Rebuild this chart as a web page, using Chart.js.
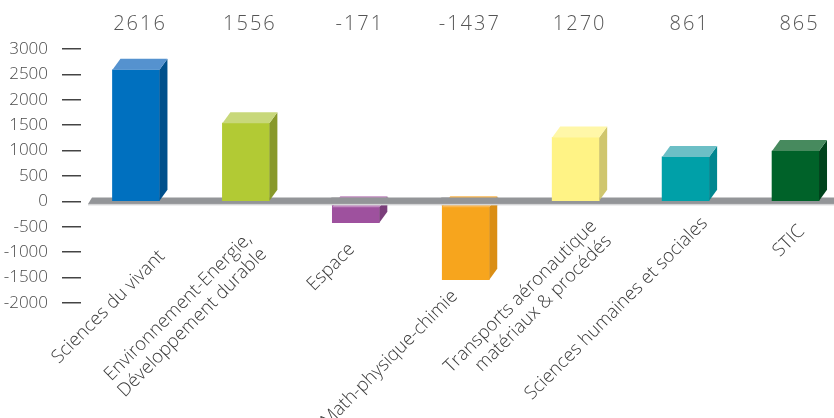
<!DOCTYPE html>
<html>
<head>
<meta charset="utf-8">
<script src="https://cdn.jsdelivr.net/npm/chart.js@4"></script>
<style>
  html, body { margin: 0; padding: 0; background: #fff; }
  #wrap { width: 834px; height: 418px; }
</style>
</head>
<body>
<div id="wrap"><canvas id="chart"></canvas></div>
<script>
// Categories (multi-line labels as arrays)
const categories = [
    'Sciences du vivant',
    ['Environnement-Energie,', 'Développement durable'],
    'Espace',
    'Math-physique-chimie',
    ['Transports aéronautique', 'matériaux & procédés'],
    'Sciences humaines et sociales',
    'STIC'
];

// Bar heights as drawn in the picture
const barValues = [2590, 1540, -420, -1540, 1260, 875, 990];

// Numbers printed above the chart
const shownValues = ['2616', '1556', '-171', '-1437', '1270', '861', '865'];

// y axis ticks
const yMin = -2000;
const yMax = 3000;
const yStep = 500;

// colours: front, top, side
const frontColors = ['#0070bf', '#b2ca34', '#9e519e', '#f7a51d', '#fff385', '#00a0a8', '#006229'];
const topColors = ['#5592cf', '#c8d87a', '#c08abf', '#f9b651', '#fff7a8', '#6cbfc6', '#478a5e'];
const sideColors = ['#00508c', '#88992a', '#7a3e7a', '#da8e15', '#cfc66d', '#008790', '#00431c'];

// where each rotated label ends, in px from the bar centre on the zero line
const labelOffsets = [[26, 52], [3, 35], [-4, 45], [-11, 92], [18, 22], [19, 19], [6, 27]];

const DEPTH_X = 8;
const DEPTH_Y = 11;
const FONT = '"Open Sans", "DejaVu Sans", sans-serif';

function drawFloor(chart) {
    const ctx = chart.ctx;
    const z = chart.scales.y.getPixelForValue(0);
    const left = chart.chartArea.left + 7;
    const right = chart.width;
    ctx.fillStyle = '#939598';
    ctx.beginPath();
    ctx.moveTo(left + 4, z - 4);
    ctx.lineTo(right, z - 4);
    ctx.lineTo(right, z + 2.5);
    ctx.lineTo(left, z + 2.5);
    ctx.closePath();
    ctx.fill();
    ctx.fillStyle = '#d4d5d6';
    ctx.fillRect(left, z + 2.5, right - left, 1.5);
}

const bar3d = {
    id: 'bar3d',
    beforeDatasetsDraw(chart) {
        drawFloor(chart);
    },
    afterDatasetsDraw(chart) {
        const ctx = chart.ctx;
        const meta = chart.getDatasetMeta(0);
        ctx.save();
        meta.data.forEach((bar, i) => {
            const x1 = bar.x - bar.width / 2;
            const x2 = bar.x + bar.width / 2;
            const neg = barValues[i] < 0;
            const faceY = neg ? bar.base + 5 : Math.min(bar.y, bar.base);
            const bottom = Math.max(bar.y, bar.base);

            // side face
            ctx.fillStyle = sideColors[i];
            ctx.beginPath();
            ctx.moveTo(x2, faceY);
            ctx.lineTo(x2 + DEPTH_X, faceY - DEPTH_Y);
            ctx.lineTo(x2 + DEPTH_X, bottom - DEPTH_Y);
            ctx.lineTo(x2, bottom);
            ctx.closePath();
            ctx.fill();

            // top face
            ctx.fillStyle = topColors[i];
            ctx.beginPath();
            ctx.moveTo(x1, faceY);
            ctx.lineTo(x1 + DEPTH_X, faceY - DEPTH_Y);
            ctx.lineTo(x2 + DEPTH_X, faceY - DEPTH_Y);
            ctx.lineTo(x2, faceY);
            ctx.closePath();
            ctx.fill();

            // floor passes in front of the negative bars
            if (neg) {
                ctx.save();
                ctx.beginPath();
                ctx.rect(x1 - 1, 0, bar.width + DEPTH_X + 2, chart.height);
                ctx.clip();
                drawFloor(chart);
                ctx.restore();
            }
        });
        ctx.restore();
    },
    afterDraw(chart) {
        const ctx = chart.ctx;
        const xs = chart.scales.x;
        const z = chart.scales.y.getPixelForValue(0);
        ctx.save();

        // values on top
        ctx.fillStyle = '#555';
        ctx.font = '300 20px ' + FONT;
        ctx.letterSpacing = '2px';
        ctx.textAlign = 'center';
        ctx.textBaseline = 'middle';
        shownValues.forEach((v, i) => {
            ctx.fillText(v, xs.getPixelForValue(i) + 4, 24.5);
        });
        ctx.letterSpacing = '0px';

        // rotated category labels
        ctx.fillStyle = '#3c3c3c';
        ctx.font = '300 18.5px ' + FONT;
        ctx.textAlign = 'right';
        categories.forEach((label, i) => {
            const lines = Array.isArray(label) ? label : [label];
            ctx.save();
            ctx.translate(xs.getPixelForValue(i) + labelOffsets[i][0], z + labelOffsets[i][1]);
            ctx.rotate(-Math.PI / 4);
            lines.forEach((line, k) => ctx.fillText(line, 0, k * 21));
            ctx.restore();
        });
        ctx.restore();
    }
};

const ctx = document.getElementById('chart').getContext('2d');
const chart = new Chart(ctx, {
    type: 'bar',
    data: {
        datasets: [{
            data: barValues.map((v, i) => ({ x: i, y: v })),
            backgroundColor: frontColors,
            borderWidth: 0,
            barThickness: 47
        }]
    },
    options: {
        responsive: true,
        maintainAspectRatio: false,
        animation: false,
        layout: { padding: { top: 49, bottom: 115, left: 0, right: 0 } },
        plugins: {
            legend: { display: false },
            tooltip: { enabled: false }
        },
        scales: {
            x: {
                type: 'linear',
                min: -0.5,
                max: 6.35,
                offset: false,
                display: false
            },
            y: {
                min: yMin,
                max: yMax,
                border: { display: false },
                grid: {
                    drawOnChartArea: false,
                    drawTicks: true,
                    tickLength: 19,
                    color: '#444',
                    lineWidth: 1.5
                },
                ticks: {
                    stepSize: yStep,
                    padding: 14,
                    color: '#4a4a4a',
                    font: { family: FONT, size: 17, weight: 300 },
                    callback: (v) => String(v)
                },
                afterFit(scale) {
                    scale.width = 81;
                }
            }
        }
    },
    plugins: [bar3d]
});
</script>
</body>
</html>
